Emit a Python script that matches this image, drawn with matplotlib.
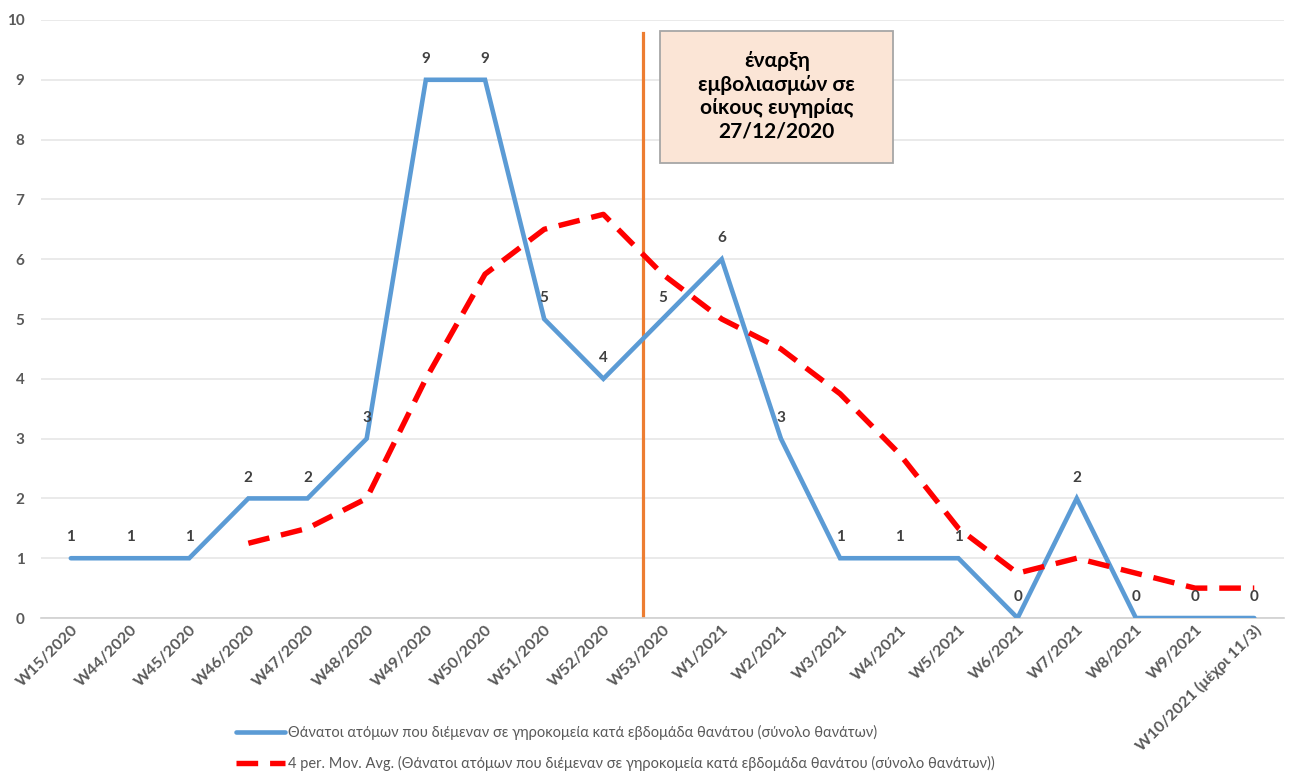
import matplotlib
matplotlib.use("Agg")
import matplotlib.pyplot as plt
from matplotlib.patches import Rectangle
import numpy as np

plt.rcParams['font.family'] = ['Lato', 'Open Sans', 'DejaVu Sans']

weeks = ["W15/2020", "W44/2020", "W45/2020", "W46/2020", "W47/2020", "W48/2020",
         "W49/2020", "W50/2020", "W51/2020", "W52/2020", "W53/2020", "W1/2021",
         "W2/2021", "W3/2021", "W4/2021", "W5/2021", "W6/2021", "W7/2021",
         "W8/2021", "W9/2021", "W10/2021 (μέχρι 11/3)"]
deaths = [1, 1, 1, 2, 2, 3, 9, 9, 5, 4, 5, 6, 3, 1, 1, 1, 0, 2, 0, 0, 0]
# 4-week moving average (first 3 weeks have no value)
mov_avg = [np.nan, np.nan, np.nan, 1.25, 1.5, 2, 4, 5.75, 6.5, 6.75, 5.75, 5,
           4.5, 3.75, 2.75, 1.5, 0.75, 1, 0.75, 0.5, 0.5]

vacc_pos = 9.67
vacc_text = "έναρξη\nεμβολιασμών σε\nοίκους ευγηρίας\n27/12/2020"
label_main = "Θάνατοι ατόμων που διέμεναν σε γηροκομεία κατά εβδομάδα θανάτου (σύνολο θανάτων)"
label_avg = "4 per. Mov. Avg. (Θάνατοι ατόμων που διέμεναν σε γηροκομεία κατά εβδομάδα θανάτου (σύνολο θανάτων))"

fig = plt.figure(figsize=(12.89, 7.84), dpi=100)
ax = fig.add_axes([0.032, 0.2117, 0.964, 0.7628])

x = np.arange(len(weeks))
l1, = ax.plot(x, deaths, color='#5B9BD5', lw=3.3, solid_capstyle='round',
              solid_joinstyle='miter', label=label_main, zorder=3)
l2, = ax.plot(x, mov_avg, color='#FF0000', lw=3.9, ls=(0, (4.0, 2.2)),
              label=label_avg, zorder=4)

for xi, v in zip(x, deaths):
    ax.annotate(str(v), (xi, v), xytext=(0, 10), textcoords='offset points',
                ha='center', va='bottom', fontsize=11, fontweight='bold',
                color='#404040', zorder=5)

ax.plot([vacc_pos, vacc_pos], [0, 9.78], color='#ED7D31', lw=2.3, zorder=2)

# annotation box for the vaccination start
ax.add_patch(Rectangle((9.96, 7.61), 3.94, 2.21, facecolor='#FBE5D6',
                       edgecolor='#A6A6A6', lw=1.3, zorder=6))
ax.text(11.93, 8.72, vacc_text, ha='center', va='center', fontsize=15,
        fontweight='bold', color='#000000', linespacing=1.22, zorder=7)

ax.set_xlim(-0.5, len(weeks) - 0.5)
ax.set_ylim(0, 10)
ax.set_yticks(range(0, 11))
ax.yaxis.grid(True, color='#E6E6E6', lw=1.2)
ax.set_axisbelow(True)
for s in ['top', 'right', 'left']:
    ax.spines[s].set_visible(False)
ax.spines['bottom'].set_color('#D0D0D0')
ax.spines['bottom'].set_linewidth(1.2)
ax.tick_params(axis='both', length=0, colors='#595959')
ax.tick_params(axis='y', labelsize=11, pad=12)
for t in ax.get_yticklabels():
    t.set_fontweight('bold')
ax.set_xticks(x)
ax.set_xticklabels(weeks, rotation=45, ha='right', va='top',
                   rotation_mode='anchor', fontsize=11.5, fontweight='bold',
                   color='#595959')

fig.legend(handles=[l1, l2], loc='upper left', bbox_to_anchor=(0.183, 0.075),
           frameon=False, fontsize=10.5, labelcolor='#595959', borderpad=0,
           borderaxespad=0, handlelength=3.4, handletextpad=0.2,
           labelspacing=1.1)

fig.savefig('out.png', dpi=100)
